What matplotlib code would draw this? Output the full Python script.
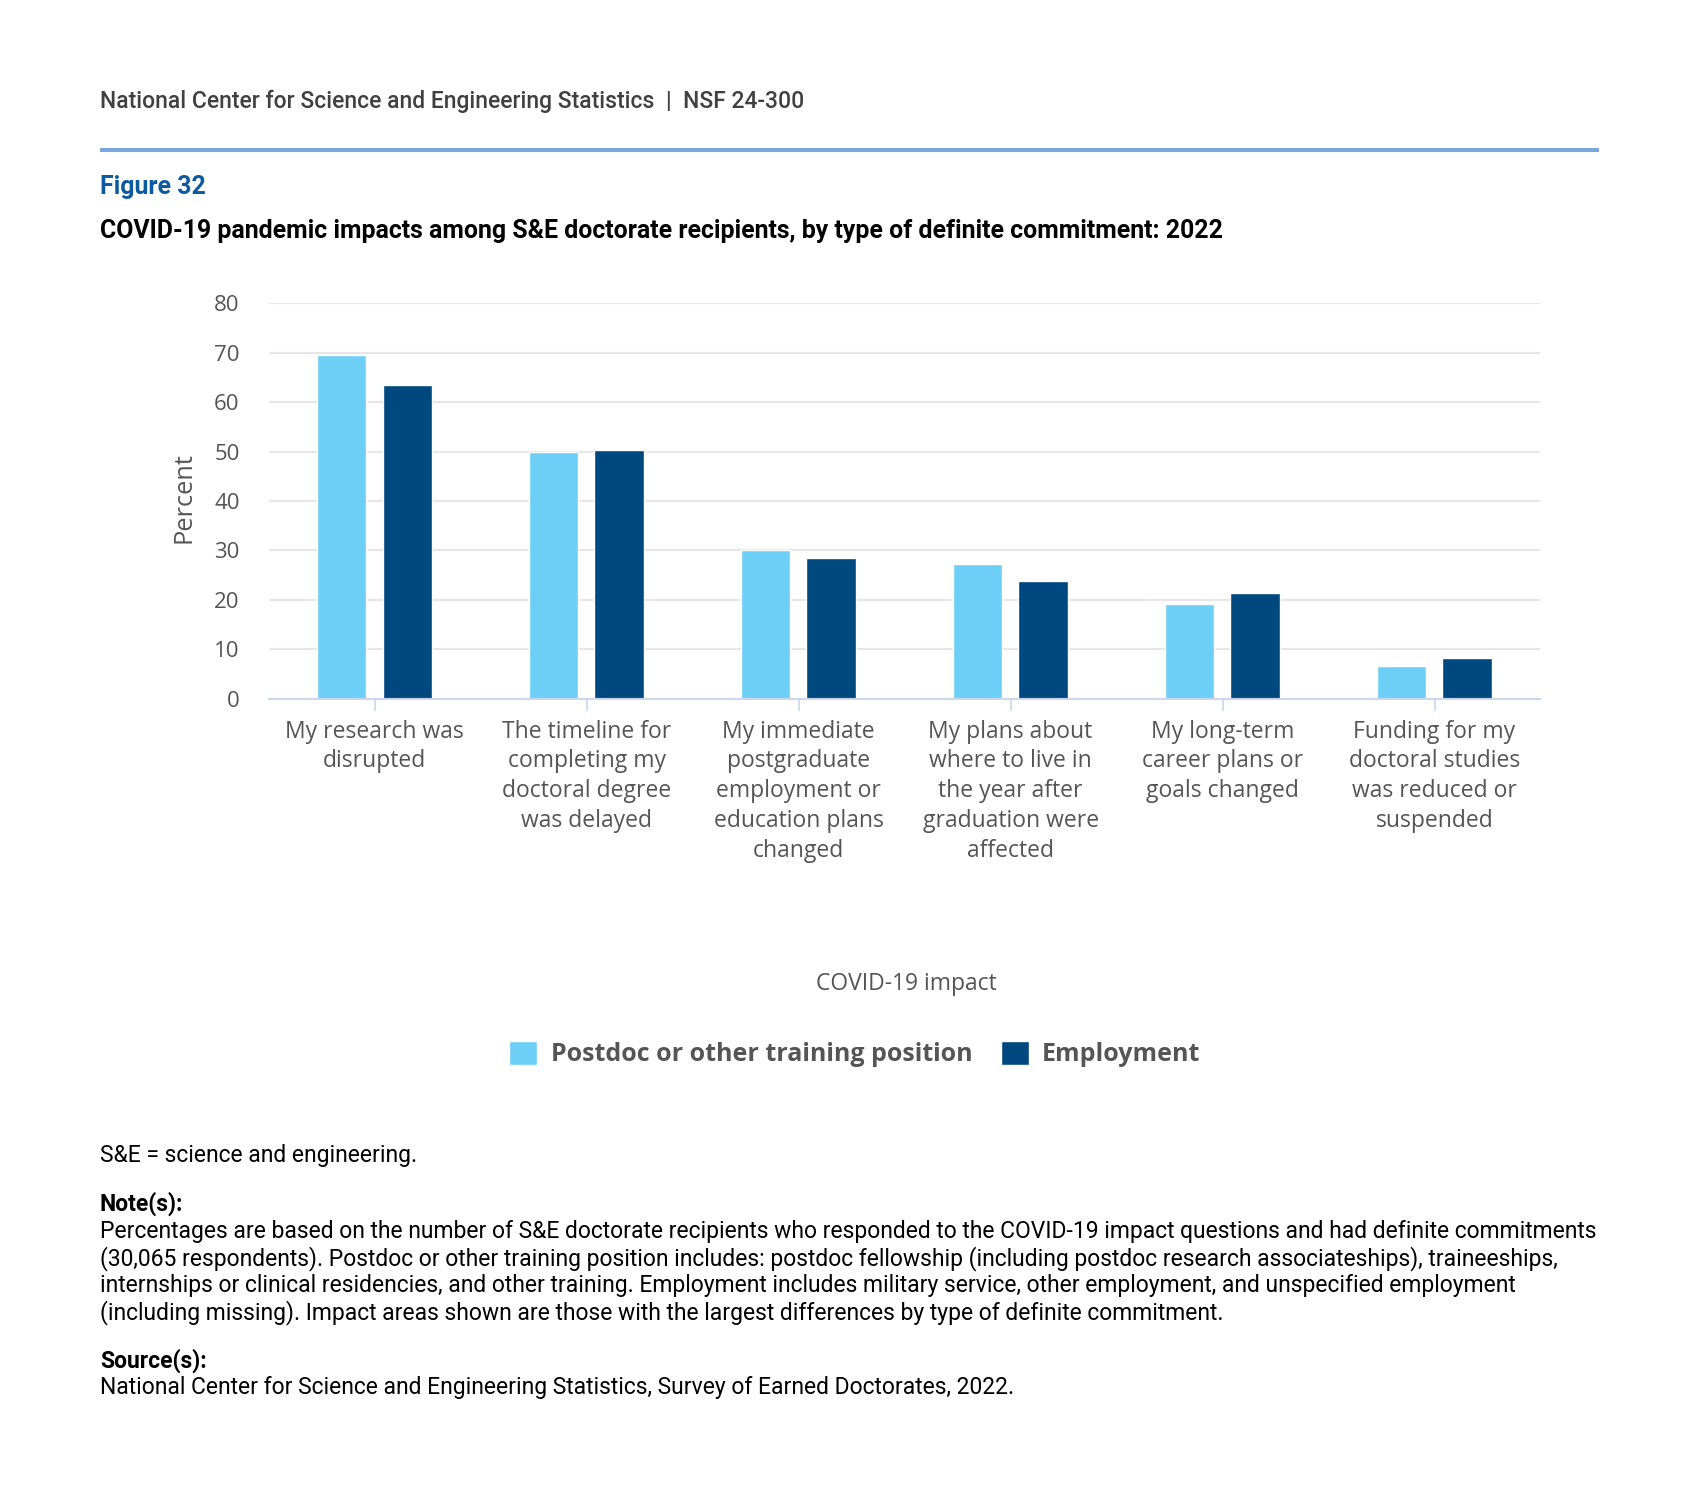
#!/usr/bin/env python3
"""Figure 32: COVID-19 pandemic impacts among S&E doctorate recipients, 2022"""

import matplotlib
matplotlib.use("Agg")
import matplotlib.pyplot as plt
import numpy as np

# data
impacts = [
    "My research was\ndisrupted",
    "The timeline for\ncompleting my\ndoctoral degree\nwas delayed",
    "My immediate\npostgraduate\nemployment or\neducation plans\nchanged",
    "My plans about\nwhere to live in\nthe year after\ngraduation were\naffected",
    "My long-term\ncareer plans or\ngoals changed",
    "Funding for my\ndoctoral studies\nwas reduced or\nsuspended",
]
postdoc = [69.6, 49.9, 30.0, 27.2, 19.1, 6.6]
employment = [63.4, 50.3, 28.4, 23.8, 21.4, 8.2]
series_names = ["Postdoc or other training position", "Employment"]
y_ticks = [0, 10, 20, 30, 40, 50, 60, 70, 80]

note_lines = [
    "Percentages are based on the number of S&E doctorate recipients who responded to the COVID-19 impact questions and had definite commitments",
    "(30,065 respondents). Postdoc or other training position includes: postdoc fellowship (including postdoc research associateships), traineeships,",
    "internships or clinical residencies, and other training. Employment includes military service, other employment, and unspecified employment",
    "(including missing). Impact areas shown are those with the largest differences by type of definite commitment.",
]

W, H = 1699, 1509
LIGHT = "#6ecff6"
DARK = "#004880"
CHART_FONT = ["Open Sans", "DejaVu Sans"]
PAGE_FONT = ["Roboto", "DejaVu Sans"]


def fx(x):
    return x / W


def fy(y):
    return 1 - y / H


fig = plt.figure(figsize=(W / 100, H / 100), dpi=100)
fig.patch.set_facecolor("white")

# page header
fig.text(fx(100), fy(101.5), "National Center for Science and Engineering Statistics  |  NSF 24-300",
         family=PAGE_FONT, fontsize=16.5, weight="medium", color="#404040", va="center", ha="left")
fig.add_artist(plt.Line2D([fx(100), fx(1599)], [fy(150), fy(150)],
                          color="#7aa7dd", lw=2.9, solid_capstyle="butt"))
fig.text(fx(100), fy(187), "Figure 32", family=PAGE_FONT, fontsize=17.9, weight="bold",
         color="#0b5aa2", va="center", ha="left")
fig.text(fx(100), fy(230.8),
         "COVID-19 pandemic impacts among S&E doctorate recipients, by type of definite commitment: 2022",
         family=PAGE_FONT, fontsize=17.9, weight="bold", color="black", va="center", ha="left")

# chart
ax = fig.add_axes([fx(268.7), fy(698.7), fx(1540.5) - fx(268.7), fy(303.3) - fy(698.7)])
x = np.arange(len(impacts))
bw = 0.232
ax.bar(x - 0.156, postdoc, width=bw, color=LIGHT, edgecolor="white", linewidth=1,
       label=series_names[0], zorder=3)
ax.bar(x + 0.153, employment, width=bw, color=DARK, edgecolor="white", linewidth=1,
       label=series_names[1], zorder=3)

ax.set_xlim(-0.5, len(impacts) - 0.5)
ax.set_ylim(0, 80)
ax.set_yticks(y_ticks)
ax.yaxis.grid(True, color="#e6e6e6", lw=1.5, zorder=0)
ax.set_axisbelow(True)
for s in ["top", "right", "left"]:
    ax.spines[s].set_visible(False)
ax.spines["bottom"].set_color("#ccd6eb")
ax.spines["bottom"].set_linewidth(1.5)
ax.spines["bottom"].set_zorder(4)

ax.set_xticks(x)
ax.set_xticklabels(impacts, family=CHART_FONT, fontsize=16.5, color="#555555", linespacing=1.32)
ax.tick_params(axis="x", length=8.5, width=1.2, color="#ccd6eb", pad=6.5)
ax.tick_params(axis="y", length=0, pad=21, labelsize=16, labelcolor="#555555")
for lab in ax.get_yticklabels():
    lab.set_family(CHART_FONT)

fig.text(fx(184), fy(498), "Percent", family=CHART_FONT, fontsize=18.3, color="#555555",
         rotation=90, va="center", ha="center")
fig.text(fx(906), fy(984), "COVID-19 impact", family=CHART_FONT, fontsize=16.5, color="#555555",
         va="center", ha="center")

leg = fig.legend(loc="center", bbox_to_anchor=(fx(855), fy(1054)), ncol=2, frameon=False,
                 prop={"family": CHART_FONT, "size": 18, "weight": "bold"},
                 handlelength=1.1, handleheight=1.1, handletextpad=0.55, columnspacing=1.15)
for t in leg.get_texts():
    t.set_color("#555555")

# footnotes
FOOT = 16.5
fig.text(fx(100), fy(1155.5), "S&E = science and engineering.", family=PAGE_FONT, fontsize=FOOT,
         color="black", va="center", ha="left")
fig.text(fx(100), fy(1203.5), "Note(s):", family=PAGE_FONT, fontsize=FOOT, weight="bold",
         color="black", va="center", ha="left")
for i, line in enumerate(note_lines):
    fig.text(fx(100), fy(1231.5 + i * 27.1), line, family=PAGE_FONT, fontsize=FOOT,
             color="black", va="center", ha="left")
fig.text(fx(100), fy(1360.3), "Source(s):", family=PAGE_FONT, fontsize=FOOT, weight="bold",
         color="black", va="center", ha="left")
fig.text(fx(100), fy(1387.5), "National Center for Science and Engineering Statistics, Survey of Earned Doctorates, 2022.",
         family=PAGE_FONT, fontsize=FOOT, color="black", va="center", ha="left")

fig.savefig("out.png", dpi=100, facecolor="white")
